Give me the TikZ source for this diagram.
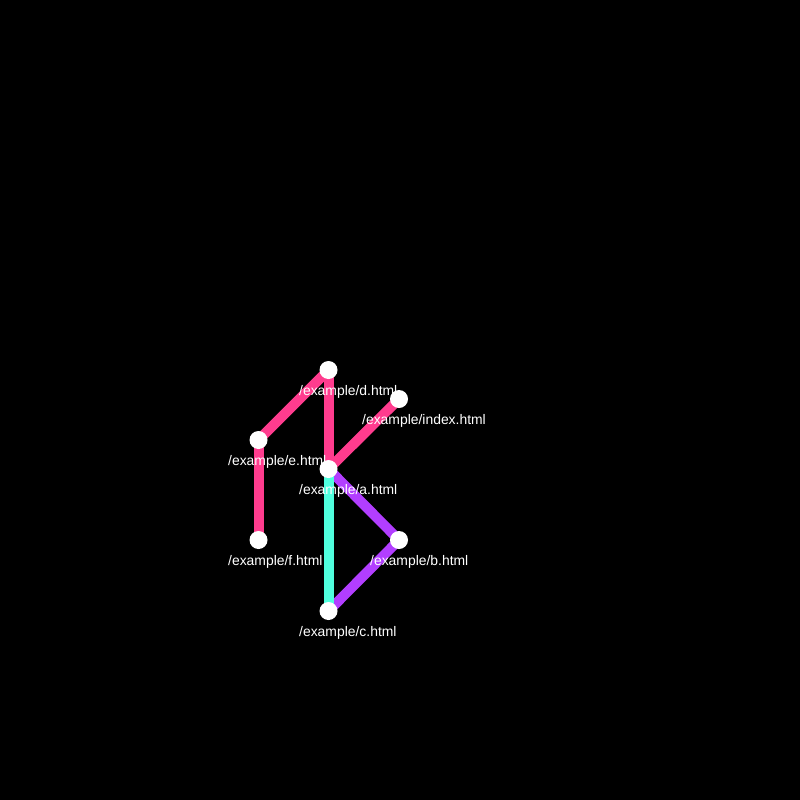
\documentclass[tikz,border=0pt]{standalone}
\usepackage{fontspec}
\setmainfont{Liberation Sans}
\definecolor{linkpink}{RGB}{255,60,142}
\definecolor{linkpurple}{RGB}{178,62,255}
\definecolor{linkcyan}{RGB}{80,255,222}
\begin{document}
\begin{tikzpicture}[x=1pt,y=-1pt,
  dot/.style={circle,fill=white,inner sep=0pt,minimum size=18pt},
  link/.style={line width=10pt},
  lab/.style={anchor=west,inner sep=0pt,text=white,font=\fontsize{13.9}{14}\selectfont}]
\fill[black] (0,0) rectangle (800,800);
\useasboundingbox (0,0) rectangle (800,800);
\coordinate (d) at (328.5,370);
\coordinate (index) at (399,399);
\coordinate (e) at (258.5,440);
\coordinate (a) at (328.5,469);
\coordinate (f) at (258.5,540);
\coordinate (b) at (399,540);
\coordinate (c) at (328.5,611);
\draw[link,linkpink] (d) -- (e);
\draw[link,linkpink] (e) -- (f);
\draw[link,linkpink] (d) -- (a);
\draw[link,linkpink] (index) -- (a);
\draw[link,linkpurple] (a) -- (b);
\draw[link,linkpurple] (b) -- (c);
\draw[link,linkcyan] (a) -- (c);
\node[dot] (nd) at (d) {};
\node[dot] (nindex) at (index) {};
\node[dot] (ne) at (e) {};
\node[dot] (na) at (a) {};
\node[dot] (nf) at (f) {};
\node[dot] (nb) at (b) {};
\node[dot] (nc) at (c) {};
\node[lab] (ld) at (299,392) {/example/d.html};
\node[lab] (lindex) at (362,421) {/example/index.html};
\node[lab] (le) at (228,462) {/example/e.html};
\node[lab] (la) at (299,491) {/example/a.html};
\node[lab] (lf) at (228,562) {/example/f.html};
\node[lab] (lb) at (370,562) {/example/b.html};
\node[lab] (lc) at (299,633) {/example/c.html};
\end{tikzpicture}
\end{document}
